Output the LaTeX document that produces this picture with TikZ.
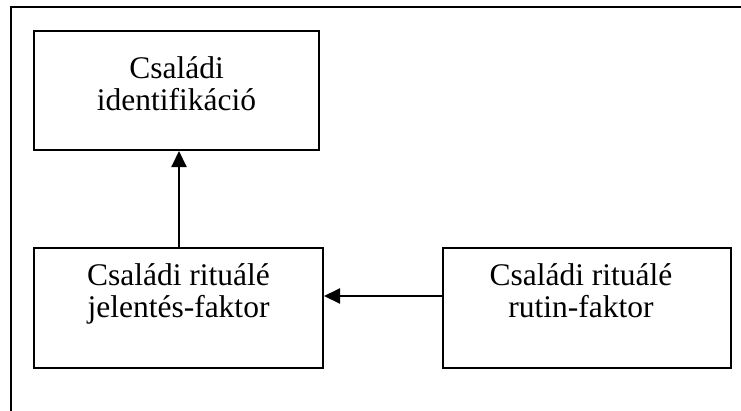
\documentclass[tikz,border=0pt]{standalone}
\usepackage{fontspec}
\setmainfont{Liberation Serif}
\usetikzlibrary{arrows.meta}
\begin{document}
\begin{tikzpicture}[x=1pt,y=-1pt,
  box/.style={draw=black, line width=2pt, rectangle, inner sep=0pt},
  lbl/.style={inner sep=0pt, anchor=base, font=\fontsize{31.5}{36}\selectfont},
  conn/.style={draw=black, line width=2pt, -{Triangle[length=16pt,width=15pt]}},
  frame/.style={draw=black, line width=2pt}]
\useasboundingbox (0,0) rectangle (741,410);
% outer frame (left and top edges)
\coordinate (fbl) at (11,412);
\coordinate (ftl) at (11,7);
\coordinate (ftr) at (743,7);
\draw[frame] (fbl) -- (ftl) -- (ftr);
% boxes
\node[box, minimum width=285pt, minimum height=119pt] (ident) at (176.5,90.5) {};
\node[box, minimum width=289pt, minimum height=120pt] (jel) at (178.5,308) {};
\node[box, minimum width=288pt, minimum height=120pt] (rut) at (587,308) {};
% labels
\node[lbl] (ident1) at (176.5,78.5) {Családi};
\node[lbl] (ident2) at (176.5,110.5) {identifikáció};
\node[lbl] (jel1) at (178.5,285) {Családi rituálé};
\node[lbl] (jel2) at (178.5,317) {jelentés-faktor};
\node[lbl] (rut1) at (581,285) {Családi rituálé};
\node[lbl] (rut2) at (581,317) {rutin-faktor};
% connectors
\draw[conn] (jel.north -| 179,0) -- (ident.south -| 179,0);
\draw[conn] (rut.west |- 0,296) -- (jel.east |- 0,296);
\end{tikzpicture}
\end{document}
